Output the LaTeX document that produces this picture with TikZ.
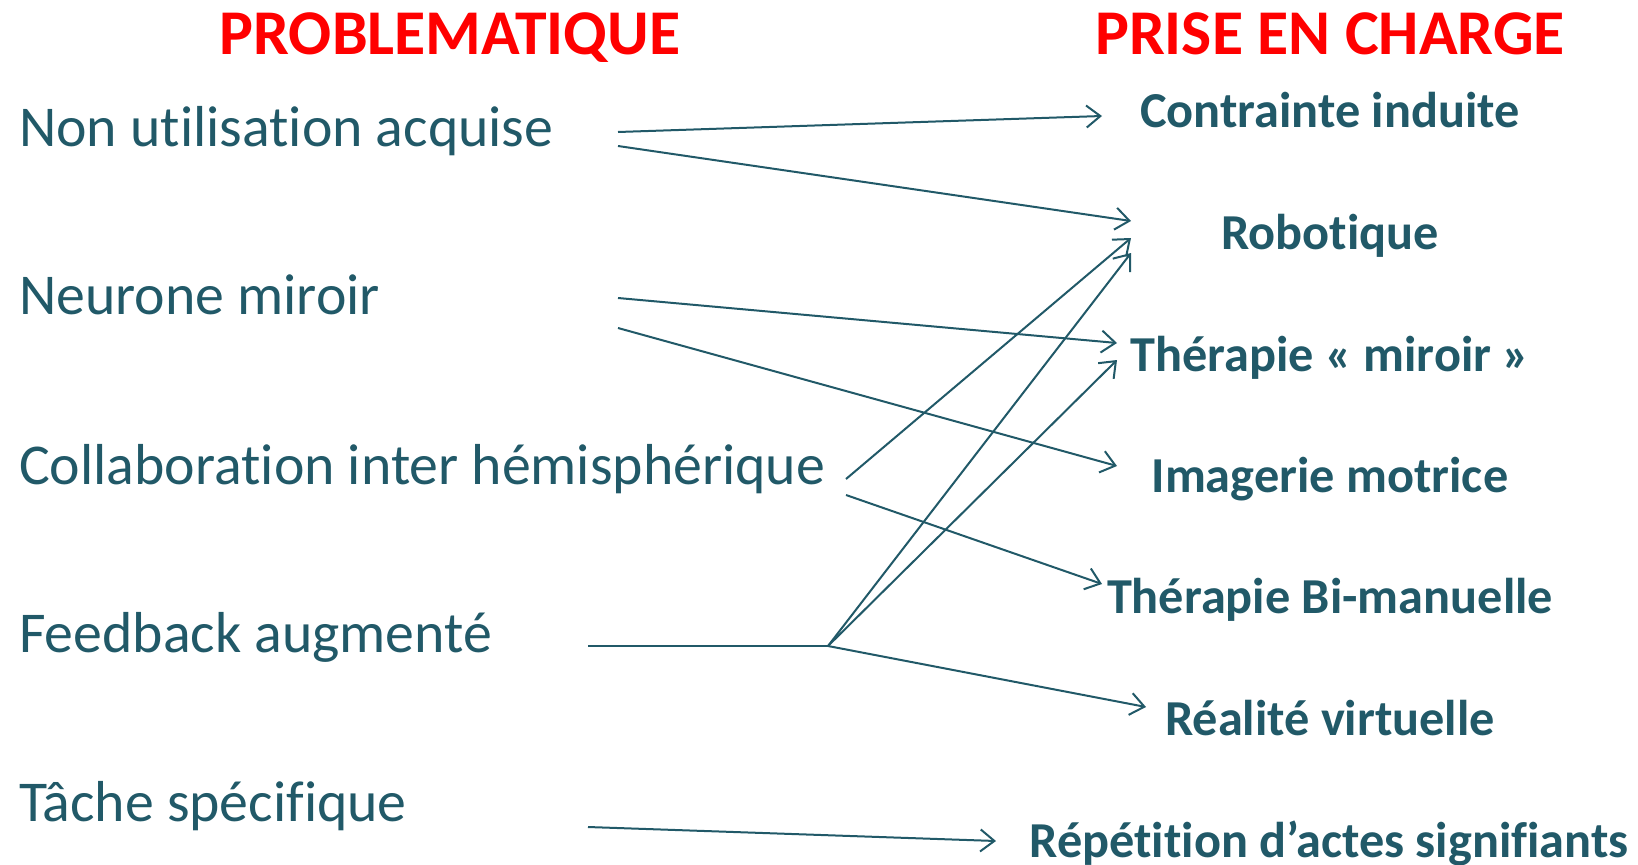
\documentclass[tikz,border=0pt]{standalone}
\usepackage{fontspec}
\setmainfont{Carlito}[Ligatures=NoCommon]
\usetikzlibrary{arrows.meta}
\definecolor{bleucanard}{RGB}{33,89,104}

\begin{document}
\begin{tikzpicture}[x=1bp,y=-1bp,
	titre/.style={anchor=base, inner sep=0pt, text=red, font=\fontsize{64}{72}\selectfont\bfseries},
	probleme/.style={anchor=base west, inner sep=0pt, text=bleucanard, font=\fontsize{58}{66}\selectfont},
	soin/.style={anchor=base, inner sep=0pt, text=bleucanard, font=\fontsize{50.5}{58}\selectfont\bfseries},
	fleche/.style={draw=bleucanard, line width=2bp, -{Straight Barb[length=14bp,width=22bp]}}]
\useasboundingbox (0,0) rectangle (1638,864);

% titres
\node [titre] (problematique) at (450,54) {PROBLEMATIQUE};
\node [titre] (priseencharge) at (1330,54) {PRISE EN CHARGE};

% colonne de gauche
\node [probleme] (nonutil) at (19,146) {Non utilisation acquise};
\node [probleme] (neurone) at (19,314) {Neurone miroir};
\node [probleme] (collab) at (19,484) {Collaboration inter hémisphérique};
\node [probleme] (feedback) at (19,652) {Feedback augmenté};
\node [probleme] (tache) at (19,821) {Tâche spécifique};

% colonne de droite
\node [soin] (contrainte) at (1330,127) {Contrainte induite};
\node [soin] (robotique) at (1330,249) {Robotique};
\node [soin] (miroir) at (1330,371) {Thérapie « miroir »};
\node [soin] (imagerie) at (1330,492) {Imagerie motrice};
\node [soin] (bimanuelle) at (1330,613) {Thérapie Bi-manuelle};
\node [soin] (realite) at (1330,735) {Réalité virtuelle};
\node [soin] (repetition) at (1329,857) {Répétition d’actes signifiants};

% departs
\coordinate (nonutil1) at (618,132);
\coordinate (nonutil2) at (618,146);
\coordinate (neurone1) at (618,298);
\coordinate (neurone2) at (618,328);
\coordinate (collab1) at (846,479);
\coordinate (collab2) at (846,495);
\coordinate (feedback0) at (588,646);
\coordinate (jonction) at (828,646);
\coordinate (tache0) at (588,827);

% arrivees
\coordinate (contrainte0) at (1102,116);
\coordinate (robotique1) at (1131,221);
\coordinate (robotique2) at (1131,238);
\coordinate (robotique3) at (1131,253);
\coordinate (miroir1) at (1117,343);
\coordinate (miroir2) at (1117,360);
\coordinate (imagerie0) at (1117,466);
\coordinate (bimanuelle0) at (1102,584);
\coordinate (realite0) at (1146,707);
\coordinate (repetition0) at (996,841);

\draw [fleche] (nonutil1) -- (contrainte0);
\draw [fleche] (nonutil2) -- (robotique1);
\draw [fleche] (neurone1) -- (miroir1);
\draw [fleche] (neurone2) -- (imagerie0);
\draw [fleche] (collab1) -- (robotique2);
\draw [fleche] (collab2) -- (bimanuelle0);
\draw [draw=bleucanard, line width=2.5bp] (feedback0) -- (jonction);
\draw [fleche] (jonction) -- (robotique3);
\draw [fleche] (jonction) -- (miroir2);
\draw [fleche] (jonction) -- (realite0);
\draw [fleche] (tache0) -- (repetition0);
\end{tikzpicture}
\end{document}
